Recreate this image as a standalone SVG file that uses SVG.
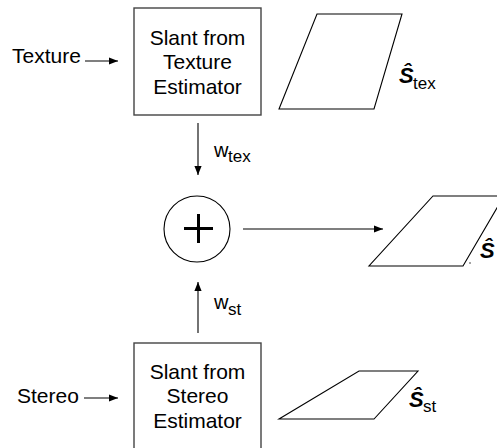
<svg xmlns="http://www.w3.org/2000/svg" width="497" height="448" viewBox="0 0 497 448">
<defs>
<marker id="ah" viewBox="0 0 10 10" refX="10" refY="5" markerWidth="9" markerHeight="9" markerUnits="userSpaceOnUse" orient="auto">
<path d="M0,1 L10,5 L0,9 Z" fill="#000"/>
</marker>
<style>
text{font-family:"Liberation Sans",Arial,sans-serif;fill:#000}
.t{font-size:21px;text-anchor:middle}
.l{font-size:21px}
.box{fill:#fff;stroke:#444;stroke-width:1.4}
.pg{fill:#fff;stroke:#000;stroke-width:1.1}
.c{stroke:#000;stroke-width:1.1;fill:none}
.s{font-size:22px;font-weight:bold;font-style:italic}
.sub{font-size:17px}
</style>
</defs>
<g id="texture-input"><text class="l" x="12" y="63">Texture</text></g>
<g id="stereo-input"><text class="l" x="17" y="403">Stereo</text></g>
<g id="texture-estimator">
<rect class="box" x="134" y="8" width="127" height="107"/>
<text class="t" x="197.5" y="45">Slant from</text>
<text class="t" x="197.5" y="69">Texture</text>
<text class="t" x="197.5" y="94">Estimator</text>
</g>
<g id="stereo-estimator">
<rect class="box" x="134" y="343" width="127" height="110"/>
<text class="t" x="197.5" y="379">Slant from</text>
<text class="t" x="197.5" y="403">Stereo</text>
<text class="t" x="197.5" y="428">Estimator</text>
</g>
<g id="sum">
<circle cx="197" cy="229" r="33" fill="#fff" stroke="#000" stroke-width="1.1"/>
<path d="M184,228.5 H213 M198.5,214 V243" stroke="#000" stroke-width="3"/>
</g>
<g id="tex-slant">
<polygon class="pg" points="317,14 402,14 374,109 279,109"/>
<text class="s" x="399" y="83">Ŝ</text><text class="sub" x="413" y="89">tex</text>
</g>
<g id="stereo-slant">
<polygon class="pg" points="359,371 418,371 374,419 279,419"/>
<text class="s" x="409" y="407">Ŝ</text><text class="sub" x="423" y="412">st</text>
</g>
<g id="combined-slant">
<polygon class="pg" points="433,196 504,196 463,266 369,266"/>
<circle cx="470" cy="263" r="0.7" fill="#000"/>
<text class="s" x="480" y="258">Ŝ</text>
</g>
<g id="connectors">
<line class="c" x1="85" y1="61" x2="118" y2="61" marker-end="url(#ah)"/>
<line class="c" x1="84" y1="398" x2="118" y2="398" marker-end="url(#ah)"/>
<line class="c" x1="198" y1="123" x2="198" y2="175" marker-end="url(#ah)"/>
<line class="c" x1="198" y1="333" x2="198" y2="282" marker-end="url(#ah)"/>
<line class="c" x1="243" y1="229" x2="383" y2="229" marker-end="url(#ah)"/>
<text x="214" y="157" font-size="20">w</text><text class="sub" x="228" y="162">tex</text>
<text x="214" y="309" font-size="20">w</text><text class="sub" x="228" y="315">st</text>
</g>
</svg>
